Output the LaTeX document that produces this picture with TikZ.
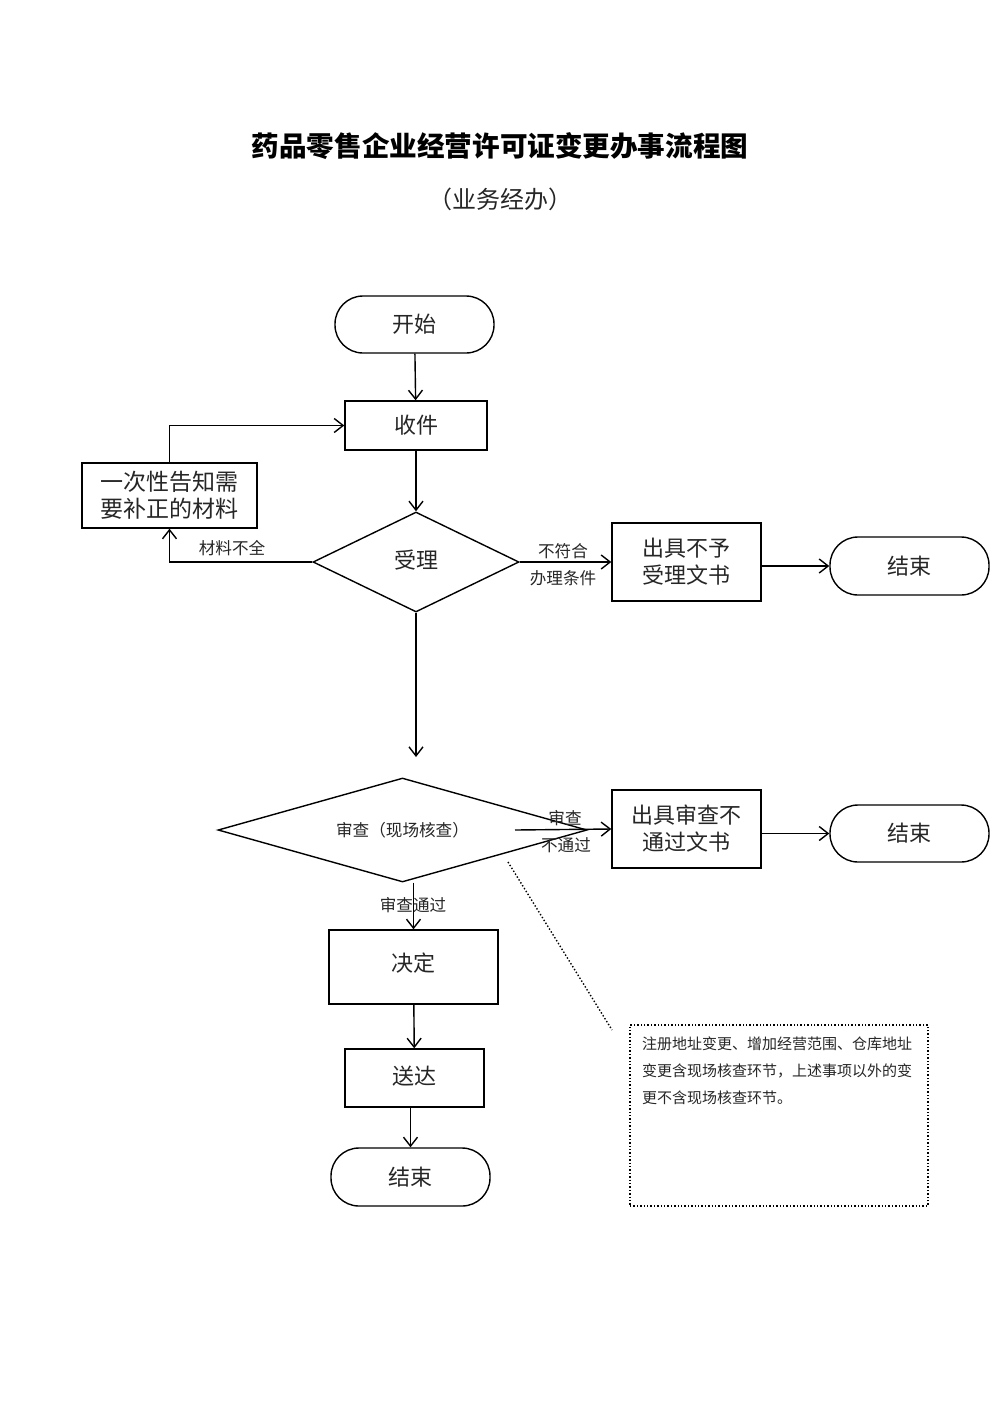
\documentclass[tikz,border=0pt]{standalone}
\usepackage{fontspec}
\setmainfont{Noto Sans CJK SC}
\usetikzlibrary{arrows.meta,shapes.geometric}
\begin{document}
\begin{tikzpicture}[x=0.5pt,y=-0.5pt, line width=0.7pt,
  every node/.style={text=black!85},
  box/.style={draw, rectangle, inner sep=0pt, align=center, font=\fontsize{11pt}{13.5pt}\selectfont},
  term/.style={draw, rectangle, rounded corners=14pt, minimum width=79.5pt, minimum height=28.5pt, inner sep=0pt, font=\fontsize{11pt}{13.5pt}\selectfont},
  dec/.style={draw, diamond, inner sep=0pt},
  lab/.style={font=\fontsize{8.3pt}{13.5pt}\selectfont, inner sep=0pt, align=center},
  arr/.style={-{Straight Barb[length=4.5pt,width=7pt]}},
  notebox/.style={draw, densely dotted, rectangle, inner sep=6pt, minimum width=149pt, minimum height=90.5pt, font=\fontsize{7.5pt}{13.5pt}\selectfont},
]
\useasboundingbox[fill=white] (0,0) rectangle (1000,1415);

% titles
\node[text=black] (title) at (500,146) {\fontsize{13.8pt}{16pt}\selectfont\bfseries 药品零售企业经营许可证变更办事流程图};
\node (subtitle) at (500,199) {\fontsize{12pt}{14pt}\selectfont （业务经办）};

% nodes
\node[term] (start) at (414.5,324.5) {开始};
\node[box, minimum width=71pt, minimum height=24.5pt] (collect) at (416,425.5) {\raisebox{1.5pt}{收件}};
\node[box, minimum width=87.5pt, minimum height=32.5pt, font=\fontsize{11.5pt}{13.5pt}\selectfont] (notice) at (169.5,495.5) {一次性告知需\\要补正的材料};
\node[dec, shape aspect=2.06, minimum width=103pt, minimum height=50pt, font=\fontsize{11pt}{13pt}\selectfont] (accept) at (416,562) {\raisebox{3pt}{受理}};
\node[box, minimum width=74.5pt, minimum height=39pt] (rej1) at (686.5,562) {出具不予\\受理文书};
\node[term, minimum height=29pt] (end1) at (909.5,566) {结束};
\coordinate (gap) at (416,757);
\node[dec, shape aspect=3.55, minimum width=184.5pt, minimum height=52pt, font=\fontsize{8.3pt}{10pt}\selectfont] (review) at (402.5,830) {审查（现场核查）};
\coordinate (rvout) at (515,830);
\node[box, minimum width=74.5pt, minimum height=39pt] (rej2) at (686.5,829) {出具审查不\\通过文书};
\node[term] (end2) at (909.5,833.5) {结束};
\node[box, minimum width=84.5pt, minimum height=37pt] (decide) at (413.5,967) {\raisebox{4.5pt}{决定}};
\node[box, minimum width=69.5pt, minimum height=29pt] (deliver) at (414.5,1078) {\raisebox{3pt}{送达}};
\node[term, minimum height=29pt] (end3) at (410.5,1177) {结束};
\node[notebox] (note) at (779,1115.5) {\parbox[c][78.5pt][t]{137pt}{\raggedright
注册地址变更、增加经营范围、仓库地址\\
变更含现场核查环节，上述事项以外的变\\
更不含现场核查环节。}};
\coordinate (dotA) at (508,862);
\coordinate (dotB) at (612,1030);

% connectors
\draw[arr] (start) -- (collect);
\draw[arr] (collect) -- (accept);
\draw[arr] (accept.west) -| (notice.south);
\node[lab] (lbl1) at (232,548) {材料不全};
\draw[arr] (notice.north) |- (collect.west);
\draw[arr] (accept.east) -- (rej1.west);
\node[lab] (lbl2) at (563,551) {不符合};
\node[lab] (lbl3) at (563,578) {办理条件};
\draw[arr] (rej1.east |- end1.west) -- (end1.west);
\draw[arr] (accept.south) -- (gap);
\draw[arr] (rvout) -- (rej2.west);
\node[lab] (lbl4) at (565,818) {审查};
\node[lab] (lbl5) at (566,845) {不通过};
\draw[arr] (rej2.east |- end2.west) -- (end2.west);
\draw[arr] (review.south -| decide.north) -- (decide.north);
\node[lab] (lbl6) at (413,905) {审查通过};
\draw[arr] (decide) -- (deliver);
\draw[arr] (deliver.south -| end3.north) -- (end3.north);
\draw[densely dotted] (dotA) -- (dotB);
\end{tikzpicture}
\end{document}
